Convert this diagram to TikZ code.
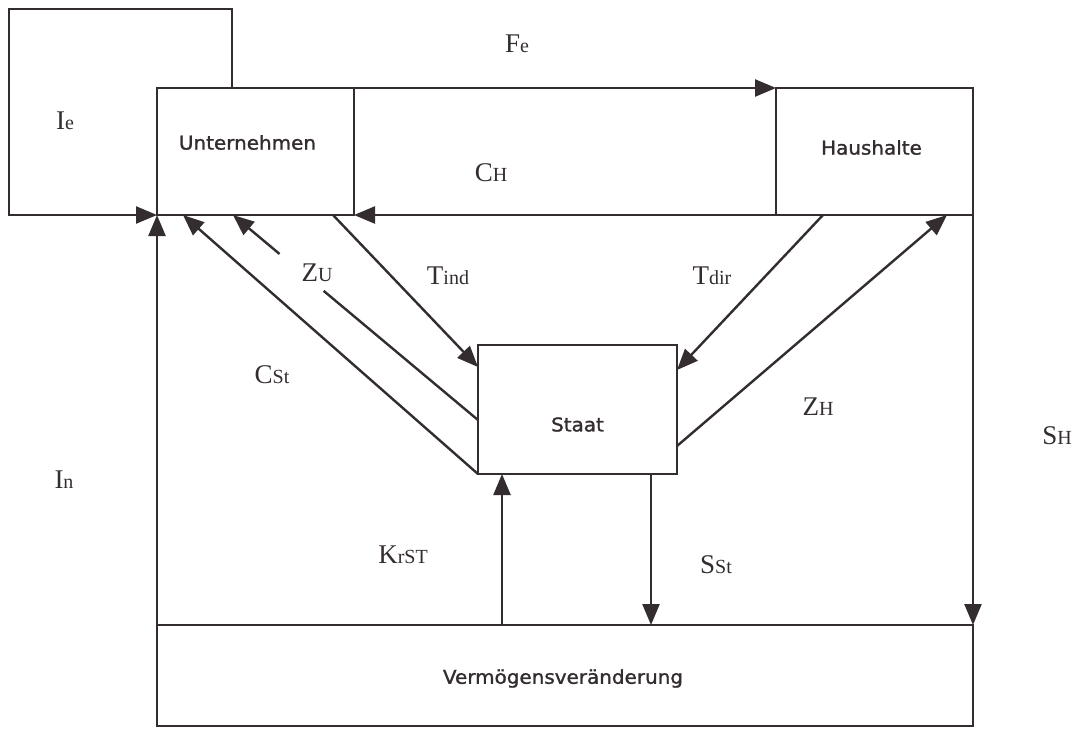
\documentclass[tikz,border=0pt]{standalone}
\usepackage{fontspec}
\setmainfont{Liberation Serif}
\newfontfamily\boxfont[FakeStretch=1.05,FakeBold=1.3]{DejaVu Sans}
\usetikzlibrary{arrows.meta,calc}
\definecolor{ink}{HTML}{332D30}
\newcommand{\lbl}[2]{{\fontsize{27}{27}\selectfont #1}{\fontsize{20}{20}\selectfont #2}}
\tikzset{
  box/.style={draw=ink, line width=2.4pt, inner sep=0pt, outer sep=0pt},
  boxtext/.style={text=ink, inner sep=0pt, font=\boxfont\fontsize{19}{19}\selectfont},
  flow/.style={draw=ink, line width=2.4pt, -{Triangle[length=21pt,width=17pt]}},
  plain/.style={draw=ink, line width=2.4pt},
  lab/.style={text=ink, inner sep=0pt},
}
\begin{document}
\begin{tikzpicture}[x=1pt,y=-1pt]
\useasboundingbox[fill=white] (0,0) rectangle (1079,729);

% boxes
\node[box, minimum width=197pt, minimum height=127pt,
      label={[boxtext, xshift=-8pt, yshift=9pt]center:Unternehmen}] (unt) at (255.5,151.5) {};
\node[box, minimum width=197pt, minimum height=127pt,
      label={[boxtext, xshift=-3pt, yshift=4pt]center:Haushalte}] (hh) at (874.5,151.5) {};
\node[box, minimum width=199pt, minimum height=129pt,
      label={[boxtext, yshift=-15pt]center:Staat}] (staat) at (577.5,409.5) {};
\node[box, minimum width=816pt, minimum height=101pt,
      label={[boxtext, xshift=-2pt, yshift=-3pt]center:Vermögensveränderung}] (verm) at (565,675.5) {};

% Ie box (its bottom edge is an arrow into Unternehmen)
\coordinate (ieT) at ($(unt.north west)+(75,0)$);
\coordinate (ieA) at (232,9);
\coordinate (ieB) at (9,9);
\coordinate (ieC) at (9,215);
\draw[flow] (ieT) -- (ieA) -- (ieB) -- (ieC) -- (unt.south west);

% circular flows
\draw[flow] (unt.north east) -- (hh.north west);
\draw[flow] (hh.south west) -- (unt.south east);
\draw[flow] (verm.north west) -- (unt.south west);
\draw[flow] (hh.south east) -- (verm.north east);

% coordinates on box edges
\coordinate (cstU) at ($(unt.south west)+(26,0)$);
\coordinate (zuU) at ($(unt.south west)+(76,0)$);
\coordinate (zuS) at ($(staat.north west)+(0,75)$);
\coordinate (tiU) at ($(unt.south west)+(176,0)$);
\coordinate (tiS) at ($(staat.north west)+(0,22)$);
\coordinate (tdH) at ($(hh.south west)+(47,0)$);
\coordinate (tdS) at ($(staat.north east)+(0,25)$);
\coordinate (zhS) at ($(staat.north east)+(0,101)$);
\coordinate (zhH) at ($(hh.south west)+(171,0)$);
\coordinate (krV) at ($(verm.north west)+(345,0)$);
\coordinate (krS) at ($(staat.south west)+(24,0)$);
\coordinate (ssS) at ($(staat.south west)+(173,0)$);
\coordinate (ssV) at ($(verm.north west)+(494,0)$);
\coordinate (zuG1) at ($(zuS)!0.63!(zuU)$);
\coordinate (zuG2) at ($(zuS)!0.81!(zuU)$);

% Staat flows
\draw[flow] (staat.south west) -- (cstU);
\draw[plain] (zuS) -- (zuG1);
\draw[flow] (zuG2) -- (zuU);
\draw[flow] (tiU) -- (tiS);
\draw[flow] (tdH) -- (tdS);
\draw[flow] (zhS) -- (zhH);
\draw[flow] (krV) -- (krS);
\draw[flow] (ssS) -- (ssV);

% labels
\node[lab] (lFe) at (517,44) {\lbl{F}{e}};
\node[lab] (lIe) at (65,121) {\lbl{I}{e}};
\node[lab] (lCH) at (491,173) {\lbl{C}{H}};
\node[lab] (lZU) at (317,273) {\lbl{Z}{U}};
\node[lab] (lTind) at (448,276) {\lbl{T}{ind}};
\node[lab] (lTdir) at (712,276) {\lbl{T}{dir}};
\node[lab] (lCSt) at (272,375) {\lbl{C}{St}};
\node[lab] (lZH) at (818,407) {\lbl{Z}{H}};
\node[lab] (lSH) at (1057,436) {\lbl{S}{H}};
\node[lab] (lIn) at (64,480) {\lbl{I}{n}};
\node[lab] (lKr) at (403,555) {\lbl{K}{rST}};
\node[lab] (lSSt) at (716,565) {\lbl{S}{St}};
\end{tikzpicture}
\end{document}
